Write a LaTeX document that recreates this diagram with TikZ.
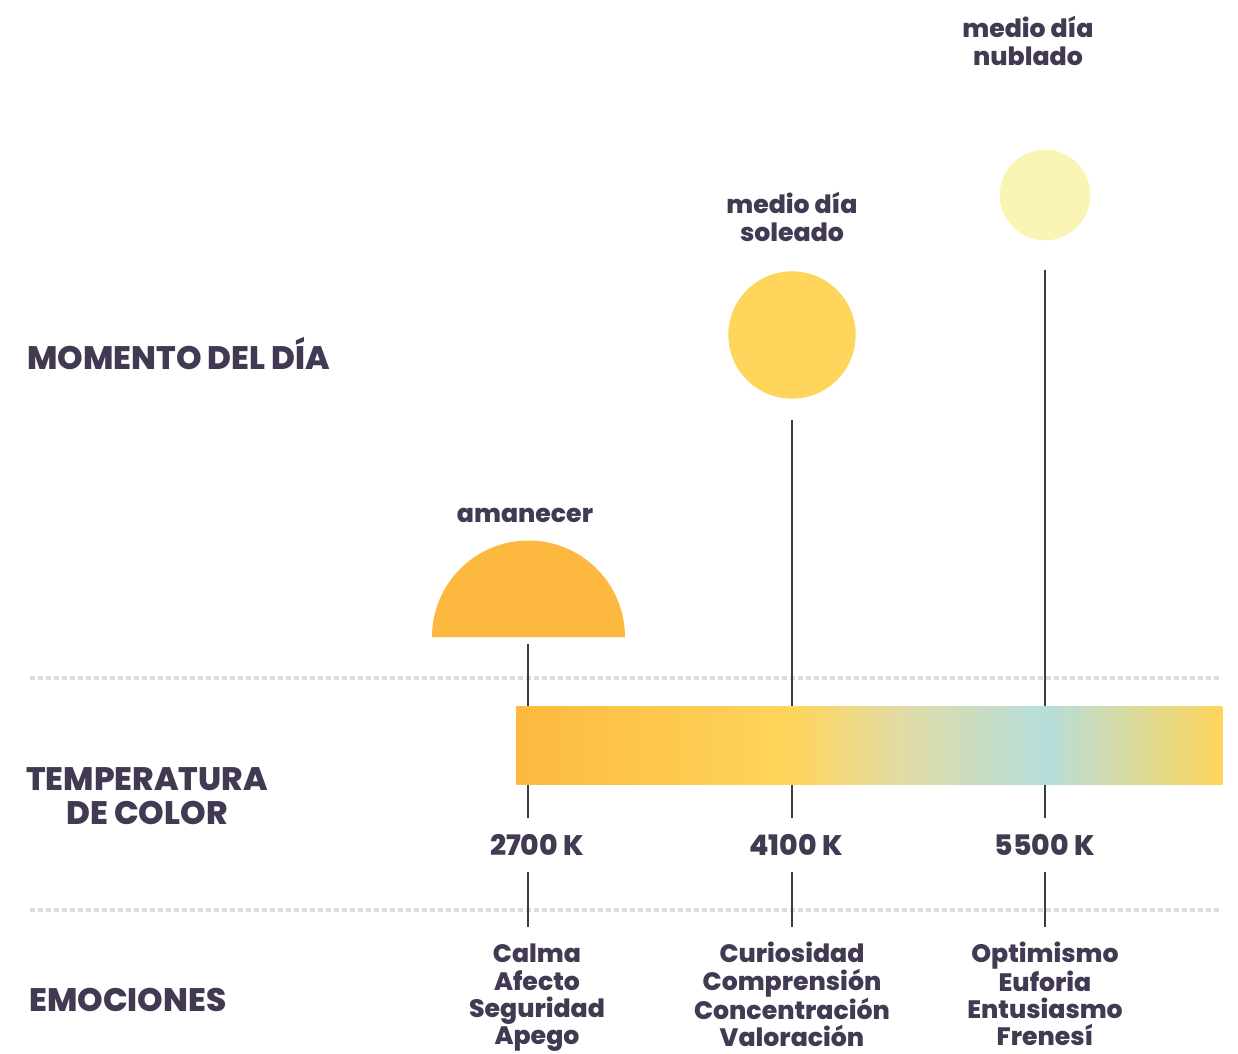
\documentclass[tikz,border=0pt]{standalone}
\usepackage{fontspec}
\setmainfont{Poppins}[BoldFont=Poppins ExtraBold]
\usepackage{tikz}
\usetikzlibrary{calc}
\usetikzlibrary{positioning}
\definecolor{inkc}{HTML}{423A52}
\definecolor{stemc}{HTML}{3C3A45}
\definecolor{dotc}{HTML}{DFDAD6}
\definecolor{sunam}{HTML}{FDB93F}
\definecolor{sunso}{HTML}{FFD55B}
\definecolor{sunnu}{HTML}{FBF5B5}
\definecolor{barmid}{HTML}{E0DBA6}
\definecolor{barblue}{HTML}{B5DEDB}
\pgfdeclarehorizontalshading{tempbar}{100bp}{
  color(0bp)=(sunam);
  color(25bp)=(sunam);
  color(44.55bp)=(sunso);
  color(52.5bp)=(barmid);
  color(62.45bp)=(barblue);
  color(75bp)=(sunso);
  color(100bp)=(sunso)
}
\begin{document}
\begin{tikzpicture}[
    x = .75pt,
    y = .75pt,
    font = \bfseries,
    heading/.style = {
      text=inkc,
      font=\fontsize{24.4}{25.5}\selectfont\bfseries,
      align=center
    },
    moment/.style = {
      text=inkc,
      font=\fontsize{18.9}{21}\selectfont\bfseries,
      align=center
    },
    emotion/.style = {
      text=inkc,
      font=\fontsize{18.9}{20.4}\selectfont\bfseries,
      align=center,
      anchor=north,
      inner sep=0pt,
      execute at begin node=\vphantom{Íj}
    },
    kelvin/.style = {
      text=inkc,
      font=\fontsize{21.2}{21}\selectfont\bfseries,
      minimum height=39.75pt,
      inner sep=0pt
    },
    sundisk/.style = {
      circle,
      draw=none,
      inner sep=0pt
    },
    stem/.style = {
      draw=stemc,
      line width=2.1pt
    },
    dotline/.style = {
      draw=dotc,
      line width=2.3pt,
      dash pattern=on 3.6pt off 2.4pt
    }
  ]
    \useasboundingbox (0,-1053) rectangle (1238,0);
    \coordinate (dotaw) at (30,-678);
    \coordinate (dotae) at (1220,-678);
    \coordinate (dotbw) at (30,-910);
    \coordinate (dotbe) at (1220,-910);
    \coordinate (dotbend) at (0,-927);
    \draw[dotline] (dotaw) -- (dotae);
    \draw[dotline] (dotbw) -- (dotbe);
    \node[shading=tempbar, minimum width=529.5pt, minimum height=58.5pt, inner sep=0pt, anchor=north west] (bar) at (516,-706) {};
    \node[sundisk, fill=sunnu, minimum size=68pt] (nublado) at (1045,-195) {};
    \node[sundisk, fill=sunso, minimum size=95.5pt] (soleado) at (792,-335) {};
    \fill[sunam] (432,-637) arc[start angle=180, end angle=0, radius=96.5] -- cycle;
    \coordinate (amanecer) at (528,-644);
    \node[moment] (tnublado) at (1028,-41) {medio día\\nublado};
    \node[moment] (tsoleado) at (792,-217) {medio día\\soleado};
    \node[moment] (tamanecer) at (525,-515) {amanecer};
    \node[heading, anchor=west, inner sep=0pt] (hmomento) at (27,-353) {MOMENTO DEL DÍA};
    \node[heading] (htemp) at (147,-796) {TEMPERATURA\\DE COLOR};
    \node[heading, anchor=west, inner sep=0pt] (hemo) at (29,-1000) {EMOCIONES};
    \node[kelvin] (ka) at (537,-845) {2700 K};
    \node[kelvin] (kb) at (796,-845) {4100 K};
    \node[kelvin] (kc) at (1045,-845) {5500 K};
    \node[emotion] (ea) at (537,-944) {Calma\\Afecto\\Seguridad\\Apego};
    \node[emotion] (eb) at (792,-942) {Curiosidad\\Comprensión\\Concentración\\Valoración};
    \node[emotion] (ec) at (1045,-942) {Optimismo\\Euforia\\Entusiasmo\\Frenesí};
    \draw[stem] (amanecer) -- (amanecer |- bar.north);
    \draw[stem, shorten <=15.75pt] (soleado.south) -- (soleado |- bar.north);
    \draw[stem, shorten <=21.75pt] (nublado.south) -- (nublado |- bar.north);
    \draw[stem] (amanecer |- bar.south) -- (amanecer |- ka.north);
    \draw[stem] (amanecer |- ka.south) -- (amanecer |- dotbend);
    \draw[stem] (soleado |- bar.south) -- (soleado |- kb.north);
    \draw[stem] (soleado |- kb.south) -- (soleado |- dotbend);
    \draw[stem] (nublado |- bar.south) -- (nublado |- kc.north);
    \draw[stem] (nublado |- kc.south) -- (nublado |- dotbend);
  \end{tikzpicture}
\end{document}
